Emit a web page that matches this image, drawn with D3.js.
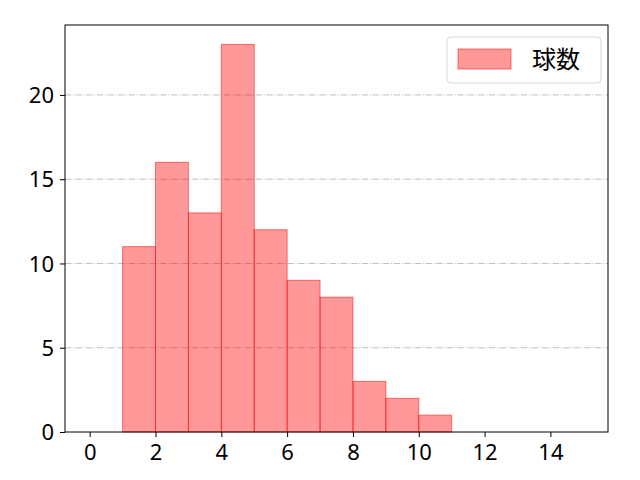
<!DOCTYPE html>
<html>
<head>
<meta charset="utf-8">
<script src="https://cdn.jsdelivr.net/npm/d3@7"></script>
<style>
  body { margin: 0; background: white; }
  text { font-family: "Noto Sans CJK JP", "DejaVu Sans", sans-serif; }
</style>
</head>
<body>
<script>
// histogram bins (lower edges) and counts
var binStarts = [0, 1, 2, 3, 4, 5, 6, 7, 8, 9, 10, 11, 12, 13, 14];
var counts = [0, 11, 16, 13, 23, 12, 9, 8, 3, 2, 1, 0, 0, 0, 0];
var xTicks = [0, 2, 4, 6, 8, 10, 12, 14];
var yTicks = [0, 5, 10, 15, 20];
var seriesName = "球数";

drawChart();

function drawChart(){
    let width = 640, height = 480;
    let mLeft = 65, mRight = 608, mTop = 25, mBottom = 432;

    let svg = d3.select("body").append("svg")
        .attr("width", width)
        .attr("height", height);

    let x = d3.scaleLinear().domain([-0.75, 15.75]).range([mLeft, mRight]);
    let y = d3.scaleLinear().domain([0, 24.15]).range([mBottom, mTop]);

    // grid
    svg.selectAll("line.grid")
        .data(yTicks.filter(d => d > 0))
        .enter()
        .append("line")
        .attr("x1", mLeft).attr("x2", mRight)
        .attr("y1", d => y(d)).attr("y2", d => y(d))
        .style("stroke", "#b0b0b0")
        .style("stroke-width", 0.8)
        .style("stroke-dasharray", "6.4,1.6,1,1.6");

    // bars
    svg.selectAll("rect.bar")
        .data(binStarts)
        .enter()
        .append("rect")
        .attr("x", (d) => x(d))
        .attr("width", (d) => x(d + 1) - x(d))
        .attr("y", (d, i) => y(counts[i]))
        .attr("height", (d, i) => y(0) - y(counts[i]))
        .style("fill", "rgba(255,0,0,0.4)")
        .style("stroke", "rgba(255,0,0,0.5)")
        .style("stroke-width", 1);

    // axes
    let xAxis = d3.axisBottom(x).tickValues(xTicks).tickSize(5).tickPadding(6);
    let yAxis = d3.axisLeft(y).tickValues(yTicks).tickSize(5).tickPadding(6);

    let gx = svg.append("g").attr("transform", "translate(0," + mBottom + ")").call(xAxis);
    let gy = svg.append("g").attr("transform", "translate(" + mLeft + ",0)").call(yAxis);
    [gx, gy].forEach(g => {
        g.select(".domain").remove();
        g.attr("font-size", null).attr("font-family", null);
        g.selectAll("text")
            .style("font-family", "'Noto Sans', sans-serif")
            .style("font-size", "22px").style("fill", "black");
        g.selectAll("line").style("stroke", "black").style("stroke-width", 1);
    });
    gx.selectAll("text").attr("dy", "0.75em");
    gy.selectAll("text").attr("dy", "0.35em");

    // frame
    svg.append("rect")
        .attr("x", mLeft).attr("y", mTop)
        .attr("width", mRight - mLeft).attr("height", mBottom - mTop)
        .style("fill", "none")
        .style("stroke", "black")
        .style("stroke-width", 1);

    // legend
    let lg = svg.append("g");
    lg.append("rect")
        .attr("x", 447).attr("y", 37).attr("width", 154).attr("height", 46)
        .attr("rx", 4)
        .style("fill", "white").style("fill-opacity", 0.8)
        .style("stroke", "#d6d6d6");
    lg.append("rect")
        .attr("x", 458).attr("y", 49).attr("width", 53).attr("height", 20)
        .style("fill", "rgba(255,0,0,0.4)")
        .style("stroke", "rgba(255,0,0,0.5)");
    lg.append("text")
        .attr("x", 532).attr("y", 68)
        .style("font-size", "24px")
        .text(seriesName);
}
</script>
</body>
</html>
